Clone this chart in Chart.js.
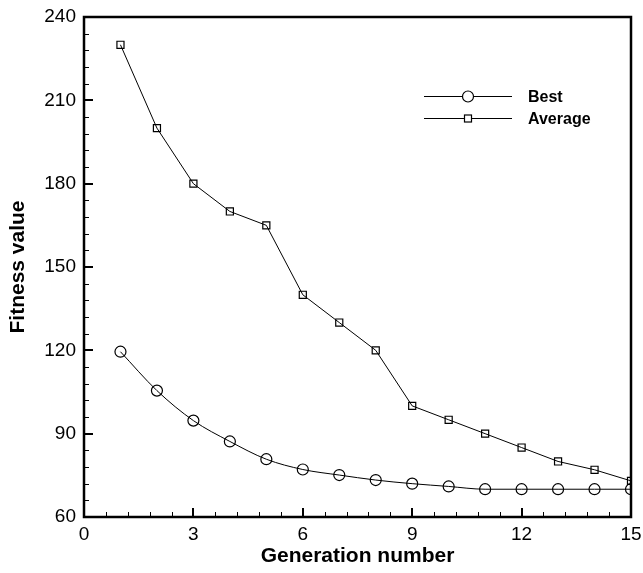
<!DOCTYPE html>
<html>
<head>
<meta charset="utf-8">
<script src="https://cdn.jsdelivr.net/npm/chart.js@4.4.1/dist/chart.umd.min.js"></script>
<style>
    html, body { margin: 0; padding: 0; background: #fff; }
    #wrap { width: 643px; height: 573px; }
</style>
</head>
<body>
<div id="wrap"><canvas id="fitnessChart"></canvas></div>
<script>
// generations and fitness values
const generations = [1, 2, 3, 4, 5, 6, 7, 8, 9, 10, 11, 12, 13, 14, 15];
const bestFitness = [119.5, 105.5, 94.7, 87.2, 80.8, 77.1, 75.1, 73.3, 72.0, 71.0, 70, 70, 70, 70, 70];
const avgFitness = [230, 200, 180, 170, 165, 140, 130, 120, 100, 95, 90, 85, 80, 77, 73];
const seriesNames = ['Best', 'Average'];
const xTicks = [0, 3, 6, 9, 12, 15];
const yTicks = [60, 90, 120, 150, 180, 210, 240];

const FONT = "'Liberation Sans', Arial, Helvetica, sans-serif";

const toPoints = (ys) => generations.map((g, i) => ({ x: g, y: ys[i] }));

// frame, inward ticks and the in-plot legend, all drawn after datasets
const framePlugin = {
    id: 'frame',
    afterDraw(chart) {
        const { ctx, chartArea: a, scales } = chart;
        const x = scales.x, y = scales.y;
        ctx.save();
        ctx.strokeStyle = '#000';

        // minor ticks
        ctx.lineWidth = 1;
        ctx.beginPath();
        for (let v = 0; v <= 15.001; v += 0.6) {
            const px = Math.round(x.getPixelForValue(v)) + 0.5;
            ctx.moveTo(px, a.bottom);
            ctx.lineTo(px, a.bottom - 5);
        }
        for (let v = 60; v <= 240; v += 6) {
            const py = Math.round(y.getPixelForValue(v)) + 0.5;
            ctx.moveTo(a.left, py);
            ctx.lineTo(a.left + 5, py);
        }
        ctx.stroke();

        // major ticks
        ctx.lineWidth = 2;
        ctx.beginPath();
        xTicks.forEach(v => {
            const px = Math.round(x.getPixelForValue(v));
            ctx.moveTo(px, a.bottom);
            ctx.lineTo(px, a.bottom - 9);
        });
        yTicks.forEach(v => {
            const py = Math.round(y.getPixelForValue(v));
            ctx.moveTo(a.left, py);
            ctx.lineTo(a.left + 9, py);
        });
        ctx.stroke();

        // frame
        ctx.lineWidth = 2.5;
        ctx.strokeRect(a.left, a.top, a.right - a.left, a.bottom - a.top);

        // legend
        const rows = [
            { name: seriesNames[0], style: 'circle', r: 5.5, yy: 96.5 },
            { name: seriesNames[1], style: 'rect', r: 5, yy: 118.5 }
        ];
        ctx.font = 'bold 16px ' + FONT;
        ctx.textBaseline = 'middle';
        rows.forEach(row => {
            ctx.lineWidth = 1;
            ctx.beginPath();
            ctx.moveTo(424, row.yy);
            ctx.lineTo(512, row.yy);
            ctx.stroke();
            ctx.lineWidth = 1.2;
            ctx.fillStyle = '#fff';
            if (row.style === 'circle') {
                ctx.beginPath();
                ctx.arc(468, row.yy, row.r, 0, Math.PI * 2);
                ctx.fill();
                ctx.stroke();
            } else {
                ctx.fillRect(464.5, row.yy - 3.5, 7, 7);
                ctx.strokeRect(464.5, row.yy - 3.5, 7, 7);
            }
            ctx.fillStyle = '#000';
            ctx.fillText(row.name, 528, row.yy + 1);
        });
        ctx.restore();
    }
};

const ctx = document.getElementById('fitnessChart');
new Chart(ctx, {
    type: 'line',
    data: {
        datasets: [
            {
                label: seriesNames[0],
                data: toPoints(bestFitness),
                borderColor: '#000',
                borderWidth: 1,
                cubicInterpolationMode: 'monotone',
                pointStyle: 'circle',
                pointRadius: 5.5,
                pointBorderWidth: 1.2,
                pointBorderColor: '#000',
                pointBackgroundColor: 'rgba(0,0,0,0)'
            },
            {
                label: seriesNames[1],
                data: toPoints(avgFitness),
                borderColor: '#000',
                borderWidth: 1,
                tension: 0,
                pointStyle: 'rect',
                pointRadius: 5,
                pointBorderWidth: 1.2,
                pointBorderColor: '#000',
                pointBackgroundColor: 'rgba(0,0,0,0)'
            }
        ]
    },
    options: {
        responsive: true,
        maintainAspectRatio: false,
        animation: false,
        layout: { padding: { top: 17, right: 12, left: 0, bottom: 0 } },
        plugins: {
            legend: { display: false },
            tooltip: { enabled: false }
        },
        scales: {
            x: {
                type: 'linear',
                min: 0,
                max: 15,
                afterBuildTicks: (s) => { s.ticks = xTicks.map(v => ({ value: v })); },
                afterFit: (s) => { s.height = 56; s.paddingLeft = 0; s.paddingRight = 0; },
                grid: { display: false, drawTicks: false },
                border: { display: false },
                ticks: {
                    padding: 6,
                    color: '#000',
                    maxRotation: 0,
                    font: { family: FONT, size: 19 }
                },
                title: {
                    display: true,
                    text: 'Generation number',
                    color: '#000',
                    padding: { top: 0, bottom: 4 },
                    font: { family: FONT, size: 21, weight: 'bold' }
                }
            },
            y: {
                type: 'linear',
                min: 60,
                max: 240,
                afterBuildTicks: (s) => { s.ticks = yTicks.map(v => ({ value: v })); },
                afterFit: (s) => { s.width = 84; s.paddingTop = 0; s.paddingBottom = 0; },
                grid: { display: false, drawTicks: false },
                border: { display: false },
                ticks: {
                    padding: 8,
                    color: '#000',
                    font: { family: FONT, size: 19 }
                },
                title: {
                    display: true,
                    text: 'Fitness value',
                    color: '#000',
                    padding: { top: 6, bottom: 0 },
                    font: { family: FONT, size: 21, weight: 'bold' }
                }
            }
        }
    },
    plugins: [framePlugin]
});
</script>
</body>
</html>
